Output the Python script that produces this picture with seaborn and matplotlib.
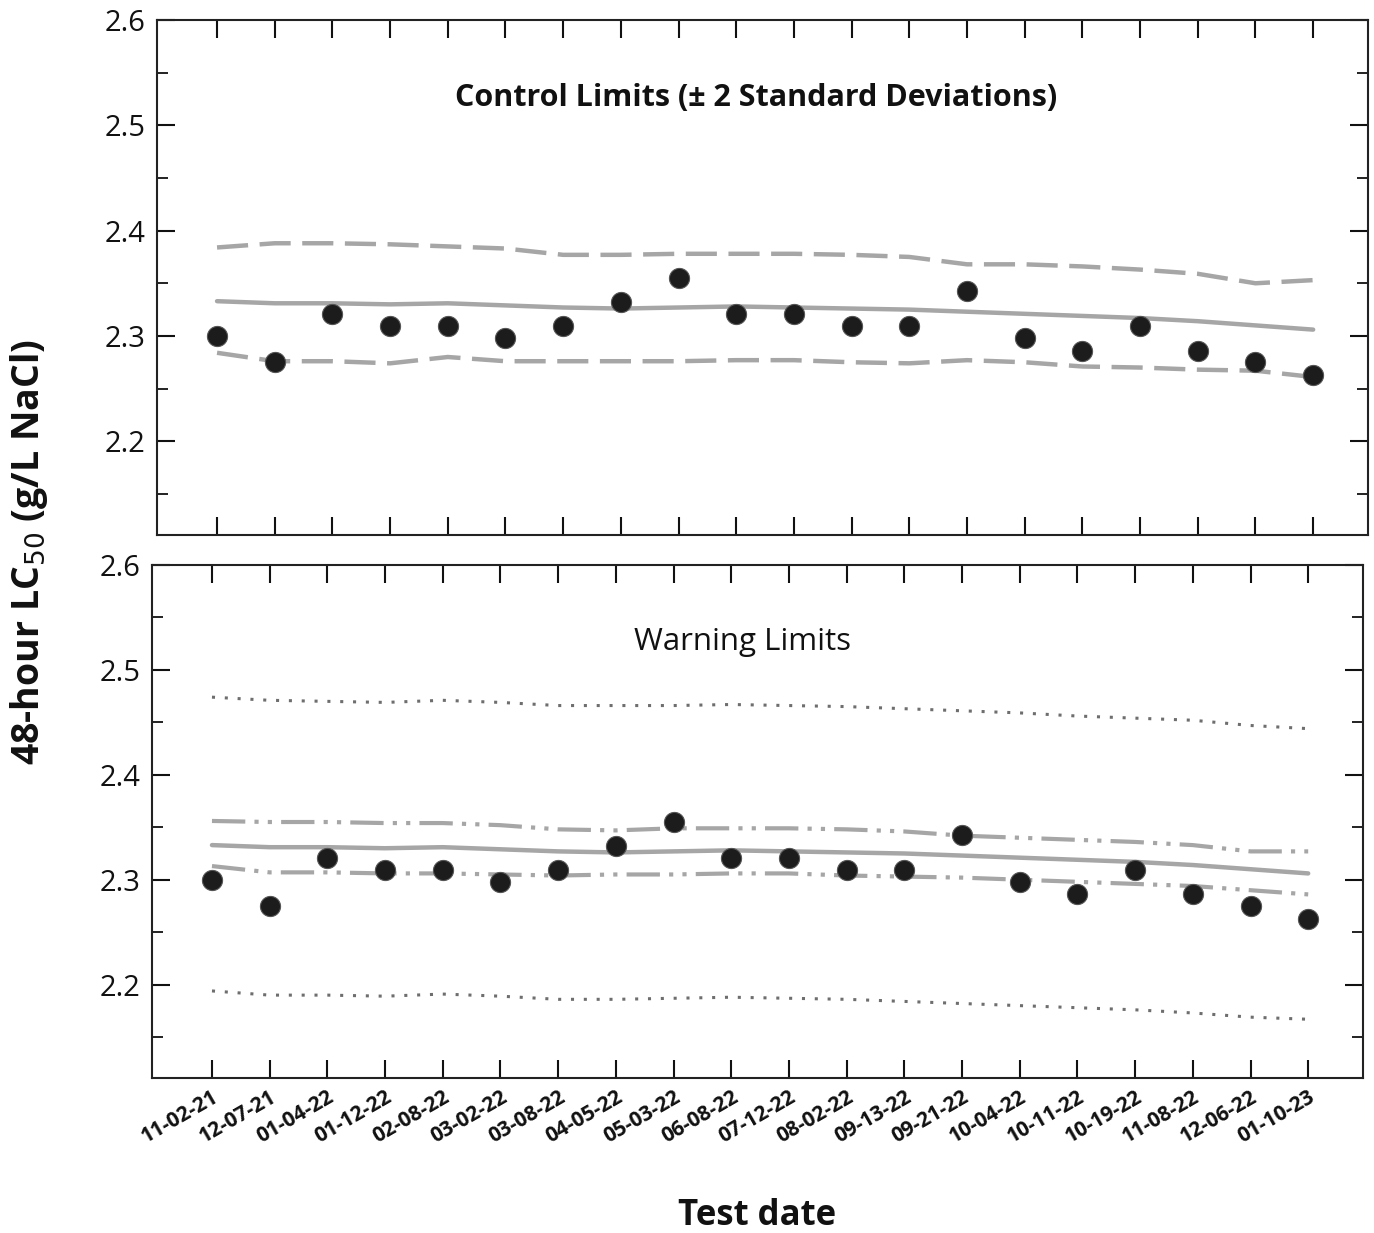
import matplotlib
matplotlib.use("Agg")
import matplotlib.pyplot as plt
from matplotlib.ticker import MultipleLocator
import numpy as np
import pandas as pd
import seaborn as sns

# Test dates and 48-hour LC50 results (g/L NaCl)
test_dates = ["11-02-21", "12-07-21", "01-04-22", "01-12-22", "02-08-22",
              "03-02-22", "03-08-22", "04-05-22", "05-03-22", "06-08-22",
              "07-12-22", "08-02-22", "09-13-22", "09-21-22", "10-04-22",
              "10-11-22", "10-19-22", "11-08-22", "12-06-22", "01-10-23"]
lc50 = [2.300, 2.275, 2.321, 2.309, 2.309, 2.298, 2.309, 2.332, 2.355, 2.321,
        2.321, 2.309, 2.309, 2.343, 2.298, 2.286, 2.309, 2.286, 2.275, 2.263]

# Running mean
mean_line = [2.333, 2.331, 2.331, 2.330, 2.331, 2.329, 2.327, 2.326, 2.327, 2.328,
             2.327, 2.326, 2.325, 2.323, 2.321, 2.319, 2.317, 2.314, 2.310, 2.306]

# Control limits (+/- 2 SD)
control_upper = [2.384, 2.388, 2.388, 2.387, 2.385, 2.383, 2.377, 2.377, 2.378, 2.378,
                 2.378, 2.377, 2.375, 2.368, 2.368, 2.366, 2.363, 2.359, 2.350, 2.353]
control_lower = [2.284, 2.276, 2.276, 2.274, 2.280, 2.276, 2.276, 2.276, 2.276, 2.277,
                 2.277, 2.275, 2.274, 2.277, 2.275, 2.271, 2.270, 2.268, 2.267, 2.261]

# Warning limits
warn_outer_upper = [2.474, 2.471, 2.470, 2.469, 2.471, 2.469, 2.466, 2.466, 2.466, 2.467,
                    2.466, 2.465, 2.463, 2.461, 2.459, 2.456, 2.454, 2.452, 2.447, 2.444]
warn_outer_lower = [2.194, 2.190, 2.190, 2.189, 2.191, 2.189, 2.186, 2.186, 2.187, 2.188,
                    2.187, 2.186, 2.184, 2.182, 2.180, 2.178, 2.176, 2.173, 2.169, 2.167]
warn_inner_upper = [2.356, 2.355, 2.355, 2.354, 2.354, 2.352, 2.348, 2.347, 2.349, 2.349,
                    2.349, 2.348, 2.346, 2.342, 2.340, 2.338, 2.336, 2.333, 2.327, 2.327]
warn_inner_lower = [2.313, 2.307, 2.307, 2.306, 2.306, 2.305, 2.304, 2.305, 2.305, 2.306,
                    2.306, 2.304, 2.303, 2.302, 2.300, 2.298, 2.296, 2.294, 2.290, 2.286]

sns.set_style("ticks")
plt.rcParams["font.family"] = ["Open Sans", "DejaVu Sans"]
plt.rcParams["text.color"] = "#111111"
plt.rcParams["xtick.color"] = "#111111"
plt.rcParams["ytick.color"] = "#111111"

df = pd.DataFrame({
    "idx": np.arange(len(test_dates)),
    "date": test_dates,
    "lc50": lc50,
    "mean": mean_line,
    "cu": control_upper,
    "cl": control_lower,
    "wou": warn_outer_upper,
    "wol": warn_outer_lower,
    "wiu": warn_inner_upper,
    "wil": warn_inner_lower,
})

fig = plt.figure(figsize=(13.74, 12.33), dpi=100)
ax1 = fig.add_axes([0.1143, 0.5661, 0.8813, 0.4177])
ax2 = fig.add_axes([0.1106, 0.1257, 0.8814, 0.4161])

grey = "#a6a6a6"
dot_grey = "#6e6e6e"
dashed = (0, (7, 2.6))
dash_dot_dot = (0, (8, 2.2, 1, 2.2, 1, 2.2))
dotted = (0, (1, 3.2))


def draw_line(ax, col, color, ls, lw):
    sns.lineplot(data=df, x="idx", y=col, ax=ax, color=color, linestyle=ls,
                 linewidth=lw, legend=False)


# Upper panel: control limits
draw_line(ax1, "cu", grey, dashed, 3.2)
draw_line(ax1, "cl", grey, dashed, 3.2)
draw_line(ax1, "mean", grey, "-", 3.2)
sns.scatterplot(data=df, x="idx", y="lc50", ax=ax1, color="#1c1c1c", s=210,
                edgecolor="#555555", linewidth=0.8, zorder=5, legend=False)
ax1.text(0.495, 0.849, "Control Limits (\u00b1 2 Standard Deviations)",
         transform=ax1.transAxes, ha="center", va="center",
         fontsize=22, fontweight="bold")

# Lower panel: warning limits
draw_line(ax2, "wou", dot_grey, dotted, 2.2)
draw_line(ax2, "wol", dot_grey, dotted, 2.2)
draw_line(ax2, "wiu", grey, dash_dot_dot, 3.0)
draw_line(ax2, "wil", grey, dash_dot_dot, 3.0)
draw_line(ax2, "mean", grey, "-", 3.2)
sns.scatterplot(data=df, x="idx", y="lc50", ax=ax2, color="#1c1c1c", s=210,
                edgecolor="#555555", linewidth=0.8, zorder=5, legend=False)
ax2.text(0.488, 0.849, "Warning Limits", transform=ax2.transAxes,
         ha="center", va="center", fontsize=22.5)

for ax in (ax1, ax2):
    ax.set_xlim(-1.04, 19.95)
    ax.set_ylim(2.111, 2.6)
    ax.set_xticks(df["idx"])
    ax.yaxis.set_major_locator(MultipleLocator(0.1))
    ax.yaxis.set_minor_locator(MultipleLocator(0.05))
    ax.set_yticks([2.2, 2.3, 2.4, 2.5, 2.6])
    ax.tick_params(axis="both", which="major", direction="in", length=13,
                   width=1.5, top=True, right=True, labelsize=21, pad=8)
    ax.tick_params(axis="y", which="minor", direction="in", length=8,
                   width=1.3, right=True)
    for sp in ax.spines.values():
        sp.set_linewidth(1.5)
        sp.set_color("#222222")
    ax.set_xlabel("")
    ax.set_ylabel("")
    ax.set_yticklabels(["2.2", "2.3", "2.4", "2.5", "2.6"])

ax1.set_xticklabels([])
ax2.set_xticklabels(test_dates, rotation=30, ha="right", rotation_mode="anchor",
                    fontsize=15, fontweight="bold")
ax2.tick_params(axis="x", which="major", pad=6)

fig.text(0.551, 0.0065, "Test date", ha="center", va="baseline",
         fontsize=25, fontweight="bold")
fig.text(0.021, 0.552, "48-hour LC$_{50}$ (g/L NaCl)", rotation=90,
         ha="center", va="center", fontsize=27, fontweight="bold")

fig.savefig("out.png", dpi=100)
